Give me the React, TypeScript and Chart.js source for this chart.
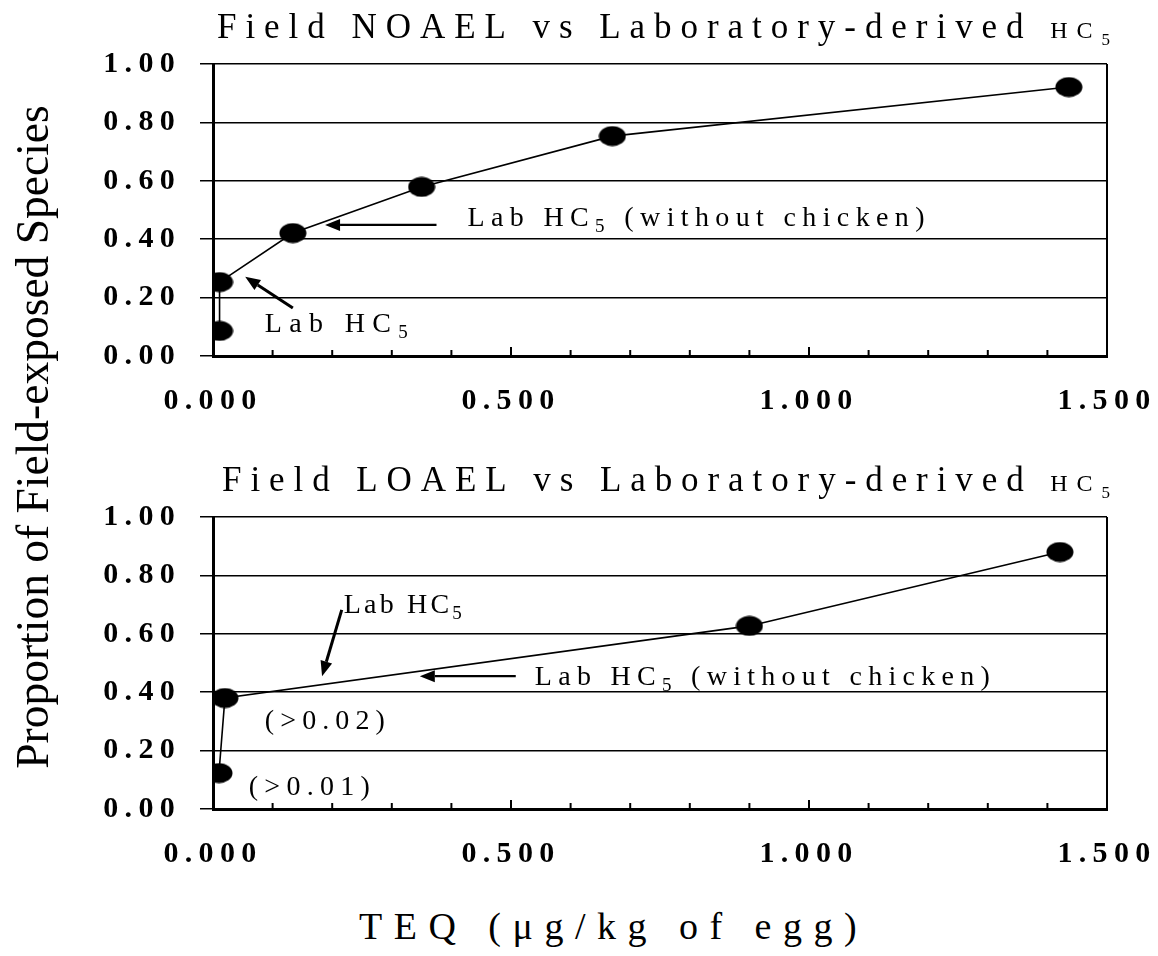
import React, { useEffect, useRef } from "react";
import { Chart, registerables } from "chart.js";

Chart.register(...registerables);

// ---------------- data ----------------
const noaelTeq = [0.011, 0.011, 0.134, 0.35, 0.67, 1.436];
const noaelProportion = [0.086, 0.253, 0.421, 0.579, 0.753, 0.921];
const loaelTeq = [0.01, 0.02, 0.9, 1.421];
const loaelProportion = [0.123, 0.38, 0.627, 0.88];

const xMin = 0;
const xMax = 1.5;
const xTickStep = 0.1;
const xLabelStep = 0.5;
const yMin = 0;
const yMax = 1;
const yTickStep = 0.2;

const topTitle = "Field NOAEL vs Laboratory-derived ";
const bottomTitle = "Field LOAEL vs Laboratory-derived ";
const yAxisTitle = "Proportion of Field-exposed Species";
const xAxisTitle = "TEQ (μg/kg of egg)";

// ---------------- styling ----------------
const SERIF = "'Liberation Serif', 'Times New Roman', Times, serif";

type Seg = { t: string; size: number; dy?: number };
type TextAnn = { kind: "text"; segs: Seg[]; x: number; y: number; w: number };
type ArrowAnn = { kind: "arrow"; x1: number; y1: number; x2: number; y2: number; lw: number };
type Ann = TextAnn | ArrowAnn;

const labHC5 = (size: number): Seg[] => [
  { t: "Lab HC", size },
  { t: "5", size: 19, dy: 6 },
];
const labHC5wc = (size: number): Seg[] => [
  { t: "Lab HC", size },
  { t: "5", size: 19, dy: 6 },
  { t: " (without chicken)", size },
];

type Panel = {
  teq: number[];
  prop: number[];
  title: Seg[];
  titleX: number;
  titleW: number;
  titleBaseline: number;
  padTop: number;
  xAxisHeight: number;
  anns: Ann[];
};

const panels: Panel[] = [
  {
    teq: noaelTeq,
    prop: noaelProportion,
    title: [
      { t: topTitle, size: 35 },
      { t: "HC", size: 24 },
      { t: "5", size: 17, dy: 7 },
    ],
    titleX: 217,
    titleW: 893,
    titleBaseline: 38,
    padTop: 64,
    xAxisHeight: 84,
    anns: [
      { kind: "text", segs: labHC5wc(28), x: 0.427, y: 0.445, w: 457 },
      { kind: "arrow", x1: 0.375, y1: 0.449, x2: 0.188, y2: 0.449, lw: 2.2 },
      { kind: "text", segs: labHC5(28), x: 0.087, y: 0.082, w: 143 },
      { kind: "arrow", x1: 0.134, y1: 0.164, x2: 0.054, y2: 0.271, lw: 3 },
    ],
  },
  {
    teq: loaelTeq,
    prop: loaelProportion,
    title: [
      { t: bottomTitle, size: 35 },
      { t: "HC", size: 24 },
      { t: "5", size: 17, dy: 7 },
    ],
    titleX: 222,
    titleW: 888,
    titleBaseline: 51,
    padTop: 77,
    xAxisHeight: 71,
    anns: [
      { kind: "text", segs: labHC5(28), x: 0.2195, y: 0.671, w: 118 },
      { kind: "arrow", x1: 0.216, y1: 0.682, x2: 0.183, y2: 0.455, lw: 3 },
      { kind: "text", segs: labHC5wc(28), x: 0.54, y: 0.425, w: 455 },
      { kind: "arrow", x1: 0.508, y1: 0.455, x2: 0.347, y2: 0.455, lw: 2.2 },
      { kind: "text", segs: [{ t: "(>0.02)", size: 28 }], x: 0.087, y: 0.274, w: 120 },
      { kind: "text", segs: [{ t: "(>0.01)", size: 28 }], x: 0.06, y: 0.048, w: 121 },
    ],
  },
];

function isMajor(v: number) {
  const r = v / xLabelStep;
  return Math.abs(r - Math.round(r)) < 1e-6;
}

function drawRich(ctx: CanvasRenderingContext2D, segs: Seg[], x: number, y: number, targetW: number) {
  const chars: { ch: string; size: number; dy: number; w: number }[] = [];
  for (const s of segs) {
    ctx.font = `${s.size}px ${SERIF}`;
    for (const ch of Array.from(s.t)) {
      chars.push({ ch, size: s.size, dy: s.dy || 0, w: ctx.measureText(ch).width });
    }
  }
  const natural = chars.reduce((a, c) => a + c.w, 0);
  const ls = chars.length > 1 ? (targetW - natural) / (chars.length - 1) : 0;
  let cx = x;
  ctx.fillStyle = "#000";
  ctx.textAlign = "left";
  ctx.textBaseline = "alphabetic";
  for (const c of chars) {
    ctx.font = `${c.size}px ${SERIF}`;
    ctx.fillText(c.ch, cx, y + c.dy);
    cx += c.w + ls;
  }
}

function drawArrow(ctx: CanvasRenderingContext2D, x1: number, y1: number, x2: number, y2: number, lw: number) {
  const ang = Math.atan2(y2 - y1, x2 - x1);
  const headLen = 15;
  const headHalf = 6;
  const bx = x2 - headLen * Math.cos(ang);
  const by = y2 - headLen * Math.sin(ang);
  ctx.strokeStyle = "#000";
  ctx.lineWidth = lw;
  ctx.beginPath();
  ctx.moveTo(x1, y1);
  ctx.lineTo(bx, by);
  ctx.stroke();
  ctx.fillStyle = "#000";
  ctx.beginPath();
  ctx.moveTo(x2, y2);
  ctx.lineTo(bx + headHalf * Math.sin(ang), by - headHalf * Math.cos(ang));
  ctx.lineTo(bx - headHalf * Math.sin(ang), by + headHalf * Math.cos(ang));
  ctx.closePath();
  ctx.fill();
}

function makeMarker() {
  const c = document.createElement("canvas");
  c.width = 28;
  c.height = 21;
  const g = c.getContext("2d")!;
  g.fillStyle = "#000";
  g.beginPath();
  g.ellipse(14, 10.5, 13.5, 10, 0, 0, Math.PI * 2);
  g.fill();
  return c;
}

function buildChart(canvas: HTMLCanvasElement, panel: Panel) {
  const marker = makeMarker();
  const decor = {
    id: "decor",
    beforeDraw(chart: any) {
      (chart.ctx as any).letterSpacing = "6.3px";
    },
    afterDraw(chart: any) {
      const ctx: CanvasRenderingContext2D = chart.ctx;
      const a = chart.chartArea;
      const xs = chart.scales.x;
      const ys = chart.scales.y;
      ctx.save();
      (ctx as any).letterSpacing = "0px";
      // right border
      ctx.strokeStyle = "#000";
      ctx.lineWidth = 2;
      ctx.beginPath();
      ctx.moveTo(a.right, a.top);
      ctx.lineTo(a.right, a.bottom);
      ctx.stroke();
      // inward x tick marks
      ctx.lineWidth = 2;
      for (const t of xs.ticks) {
        if (t.value <= xMin + 1e-9) continue;
        const px = xs.getPixelForValue(t.value);
        const len = isMajor(t.value) ? 9 : 6;
        ctx.beginPath();
        ctx.moveTo(px, a.bottom);
        ctx.lineTo(px, a.bottom - len);
        ctx.stroke();
      }
      // title
      drawRich(ctx, panel.title, panel.titleX, panel.titleBaseline, panel.titleW);
      // annotations
      for (const an of panel.anns) {
        if (an.kind === "text") {
          drawRich(ctx, an.segs, xs.getPixelForValue(an.x), ys.getPixelForValue(an.y), an.w);
        } else {
          drawArrow(
            ctx,
            xs.getPixelForValue(an.x1),
            ys.getPixelForValue(an.y1),
            xs.getPixelForValue(an.x2),
            ys.getPixelForValue(an.y2),
            an.lw
          );
        }
      }
      ctx.restore();
    },
  };

  return new Chart(canvas, {
    type: "scatter",
    data: {
      datasets: [
        {
          data: panel.teq.map((x, i) => ({ x, y: panel.prop[i] })),
          showLine: true,
          borderColor: "#000",
          borderWidth: 1.6,
          backgroundColor: "#000",
          pointStyle: marker as any,
          pointRadius: 10,
          pointHoverRadius: 10,
        },
      ],
    },
    options: {
      responsive: false,
      animation: false,
      devicePixelRatio: 1,
      events: [],
      layout: { padding: { top: panel.padTop, right: 51, left: 0, bottom: 0 } },
      plugins: {
        legend: { display: false },
        tooltip: { enabled: false },
        title: { display: false },
      },
      scales: {
        x: {
          type: "linear",
          min: xMin,
          max: xMax,
          afterFit: (s: any) => {
            s.height = panel.xAxisHeight;
          },
          ticks: {
            stepSize: xTickStep,
            autoSkip: false,
            maxRotation: 0,
            minRotation: 0,
            padding: 3,
            color: "#000",
            font: { family: SERIF, size: 30, weight: "bold" },
            callback: (v: any) => (isMajor(Number(v)) ? Number(v).toFixed(3) : ""),
          },
          grid: {
            display: true,
            drawOnChartArea: false,
            drawTicks: true,
            tickLength: 24,
            tickColor: "rgba(0,0,0,0)",
          },
          border: { display: true, width: 3, color: "#000" },
        },
        y: {
          type: "linear",
          min: yMin,
          max: yMax,
          afterFit: (s: any) => {
            s.width = 213;
          },
          ticks: {
            stepSize: yTickStep,
            padding: 19,
            color: "#000",
            font: { family: SERIF, size: 30, weight: "bold" },
            callback: (v: any) => Number(v).toFixed(2),
          },
          grid: { color: "#000", lineWidth: 1.5, drawTicks: true, tickLength: 13 },
          border: { display: true, width: 3, color: "#000" },
        },
      },
    } as any,
    plugins: [decor as any],
  });
}

export default function App() {
  const c1 = useRef<HTMLCanvasElement | null>(null);
  const c2 = useRef<HTMLCanvasElement | null>(null);

  useEffect(() => {
    const charts: Chart[] = [];
    if (c1.current) charts.push(buildChart(c1.current, panels[0]));
    if (c2.current) charts.push(buildChart(c2.current, panels[1]));
    return () => charts.forEach((c) => c.destroy());
  }, []);

  return (
    <div
      style={{
        position: "fixed",
        left: 0,
        top: 0,
        width: 1158,
        height: 956,
        background: "#fff",
        overflow: "hidden",
      }}
    >
      <canvas ref={c1} width={1158} height={440} style={{ position: "absolute", left: 0, top: 0, width: 1158, height: 440 }} />
      <canvas ref={c2} width={1158} height={440} style={{ position: "absolute", left: 0, top: 440, width: 1158, height: 440 }} />
      <div
        style={{
          position: "absolute",
          left: 33 - 400,
          top: 437 - 25,
          width: 800,
          height: 50,
          lineHeight: "50px",
          textAlign: "center",
          fontFamily: SERIF,
          fontSize: 45.5,
          color: "#000",
          whiteSpace: "nowrap",
          transform: "rotate(-90deg)",
          transformOrigin: "50% 50%",
        }}
      >
        {yAxisTitle}
      </div>
      <div
        style={{
          position: "absolute",
          left: 359,
          top: 907,
          fontFamily: SERIF,
          fontSize: 38,
          lineHeight: "38px",
          letterSpacing: "11.5px",
          color: "#000",
          whiteSpace: "nowrap",
        }}
      >
        {xAxisTitle}
      </div>
    </div>
  );
}
